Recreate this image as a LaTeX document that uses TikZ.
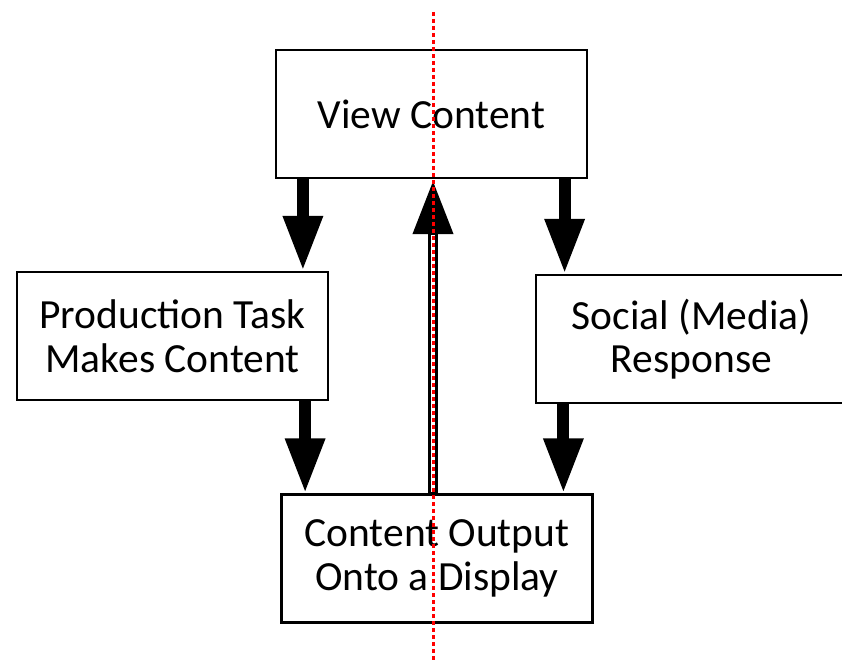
\documentclass[tikz,border=0pt]{standalone}
\usepackage{fontspec}
\setmainfont{Carlito}
\usetikzlibrary{arrows.meta}
\begin{document}
\begin{tikzpicture}[x=1pt,y=-1pt,
  box/.style={draw=black, line width=2.2pt, fill=white, minimum width=311pt,
    minimum height=128pt, align=center, inner sep=0pt,
    font=\fontsize{41.5}{43.5}\selectfont},
  blk/.style={line width=12pt, -{Triangle[width=37pt,length=55pt]}},
  upshaft/.style={line width=10pt, -{Triangle[width=38pt,length=54pt]}},
  hollow/.style={line width=3.5pt, white},
  redline/.style={red, line width=3pt, dash pattern=on 4pt off 3pt}]
\useasboundingbox (0,0) rectangle (842,666);
\clip (0,0) rectangle (842,666);
\node[box] (view) at (431.5,114) {View Content};
\node[box] (prod) at (172.5,336) {Production Task\\Makes Content};
\node[box] (social) at (691.5,339) {Social (Media)\\Response};
\node[box] (out) at (437,558.5) {Content Output\\Onto a Display};
\coordinate (rtop) at (433,12);
\coordinate (rbot) at (433,662);
% block arrows
\draw[blk] ([xshift=28pt]view.south west) -- ([xshift=28pt]view.south west |- prod.north);
\draw[blk] ([xshift=-24pt]prod.south east) -- ([xshift=-24pt]prod.south east |- out.north);
\draw[blk] ([xshift=-23.5pt]view.south east) -- ([xshift=-23.5pt]view.south east |- social.north);
\draw[blk] ([xshift=28.5pt]social.south west) -- ([xshift=28.5pt]social.south west |- out.north);
% central hollow arrow
\draw[upshaft] (out.north -| rtop) -- ([yshift=-1pt]view.south -| rtop);
\draw[hollow] ([yshift=1.5pt]out.north -| rtop) -- ([yshift=-56pt]view.south -| rtop);
% red dotted line
\draw[redline] (rtop) -- (rbot);
\end{tikzpicture}
\end{document}
